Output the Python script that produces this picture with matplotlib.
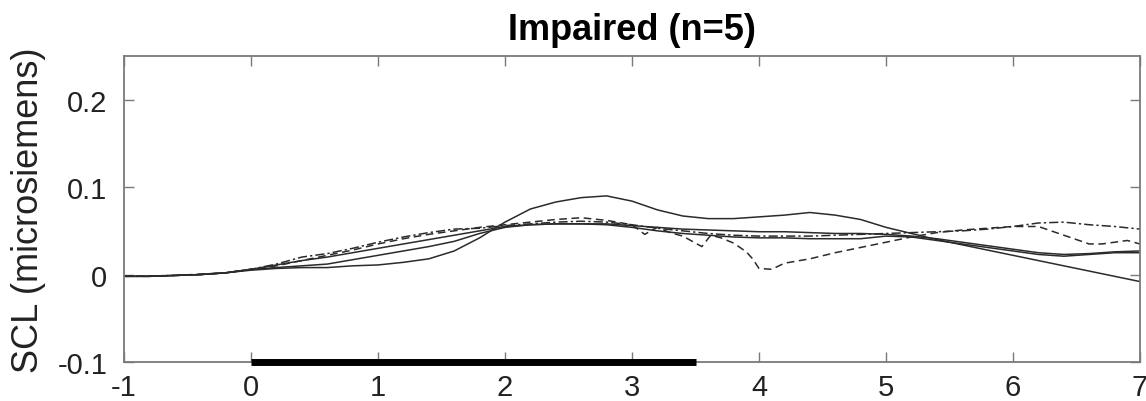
import matplotlib
matplotlib.use("Agg")
import matplotlib.pyplot as plt
from matplotlib import font_manager

# time axis (s) shared by most traces
t = [-1.0, -0.8, -0.6, -0.4, -0.2, 0.0, 0.2, 0.4, 0.6, 0.8, 1.0, 1.2, 1.4, 1.6,
     1.8, 2.0, 2.2, 2.4, 2.6, 2.8, 3.0, 3.2, 3.4, 3.6, 3.8, 4.0, 4.2, 4.4, 4.6,
     4.8, 5.0, 5.2, 5.4, 5.6, 5.8, 6.0, 6.2, 6.4, 6.6, 6.8, 7.0]

# solid trace with the big peak
scl_a = [-0.002, -0.002, -0.001, 0.000, 0.002, 0.005, 0.007, 0.008, 0.008, 0.010,
         0.011, 0.014, 0.018, 0.027, 0.042, 0.060, 0.075, 0.083, 0.088, 0.090,
         0.084, 0.074, 0.067, 0.064, 0.064, 0.066, 0.068, 0.071, 0.068, 0.063,
         0.054, 0.047, 0.040, 0.034, 0.028, 0.022, 0.016, 0.010, 0.004, -0.002,
         -0.008]

# dash-dot trace
scl_b = [-0.002, -0.002, -0.001, 0.000, 0.002, 0.006, 0.012, 0.020, 0.024, 0.030,
         0.037, 0.043, 0.048, 0.052, 0.053, 0.056, 0.058, 0.060, 0.061, 0.060,
         0.057, 0.053, 0.050, 0.047, 0.045, 0.044, 0.044, 0.044, 0.045, 0.046,
         0.047, 0.048, 0.049, 0.050, 0.052, 0.055, 0.059, 0.060, 0.057, 0.055,
         0.052]

# solid traces in the middle
scl_d = [-0.002, -0.002, -0.001, 0.000, 0.002, 0.006, 0.008, 0.010, 0.012, 0.017,
         0.022, 0.027, 0.032, 0.038, 0.047, 0.054, 0.057, 0.058, 0.058, 0.057,
         0.054, 0.050, 0.047, 0.045, 0.043, 0.042, 0.042, 0.041, 0.041, 0.041,
         0.044, 0.043, 0.039, 0.035, 0.031, 0.027, 0.023, 0.021, 0.023, 0.025,
         0.025]
scl_e = [-0.002, -0.002, -0.001, 0.000, 0.002, 0.006, 0.011, 0.016, 0.020, 0.025,
         0.030, 0.035, 0.040, 0.045, 0.050, 0.055, 0.057, 0.058, 0.058, 0.058,
         0.056, 0.054, 0.052, 0.051, 0.050, 0.049, 0.049, 0.048, 0.047, 0.047,
         0.046, 0.044, 0.041, 0.037, 0.033, 0.029, 0.025, 0.023, 0.024, 0.026,
         0.027]

# dashed trace with the dip near 4 s (own time points)
t_c = [-1.0, -0.6, -0.2, 0.0, 0.2, 0.4, 0.6, 0.8, 1.0, 1.2, 1.4, 1.6, 1.8, 2.0,
       2.2, 2.4, 2.6, 2.8, 3.0, 3.1, 3.2, 3.3, 3.4, 3.5, 3.55, 3.62, 3.7, 3.8,
       3.9, 3.95, 4.0, 4.1, 4.2, 4.4, 4.6, 4.8, 5.0, 5.2, 5.4, 5.6, 5.8, 6.0,
       6.2, 6.3, 6.4, 6.5, 6.6, 6.7, 6.8, 6.9, 7.0]
scl_c = [-0.002, -0.001, 0.002, 0.006, 0.010, 0.016, 0.022, 0.028, 0.035, 0.041,
         0.046, 0.050, 0.054, 0.057, 0.060, 0.063, 0.065, 0.062, 0.057, 0.046,
         0.054, 0.048, 0.044, 0.036, 0.032, 0.045, 0.042, 0.036, 0.026, 0.018,
         0.007, 0.006, 0.013, 0.018, 0.025, 0.031, 0.037, 0.043, 0.048, 0.051,
         0.053, 0.055, 0.055, 0.050, 0.045, 0.040, 0.035, 0.035, 0.037, 0.039,
         0.035]

stim_on, stim_off = 0.0, 3.5
xticks = [-1, 0, 1, 2, 3, 4, 5, 6, 7]
yticks = [-0.1, 0, 0.1, 0.2]
ytick_labels = ["-0.1", "0", "0.1", "0.2"]

names = {f.name for f in font_manager.fontManager.ttflist}
base_font = "Liberation Sans" if "Liberation Sans" in names else "DejaVu Sans"
plt.rcParams["font.family"] = base_font

fig = plt.figure(figsize=(11.46, 4.02), dpi=100)
ax = fig.add_axes([124 / 1146, 39 / 402, 1016 / 1146, 306 / 402])

line_col = "#2b2b2b"
ax.plot(t, scl_a, color=line_col, lw=1.1, ls="-")
ax.plot(t, scl_d, color=line_col, lw=1.1, ls="-")
ax.plot(t, scl_e, color=line_col, lw=1.1, ls="-")
ax.plot(t, scl_b, color=line_col, lw=1.1, ls=(0, (6, 2, 1.5, 2)))
ax.plot(t_c, scl_c, color=line_col, lw=1.1, ls=(0, (5, 3)))

# stimulus bar along the bottom axis
ax.plot([stim_on, stim_off], [-0.1, -0.1], color="black", lw=5,
        solid_capstyle="butt", clip_on=False, zorder=5)

ax.set_xlim(-1, 7)
ax.set_ylim(-0.1, 0.25)
ax.set_xticks(xticks)
ax.set_xticklabels([str(v) for v in xticks])
ax.set_yticks(yticks)
ax.set_yticklabels(ytick_labels)

for s in ax.spines.values():
    s.set_color("#7a7a7a")
    s.set_linewidth(1.3)
ax.tick_params(direction="in", length=7, width=1.0, color="#7a7a7a",
               labelsize=21, labelcolor="#222222", top=True, right=True, pad=8)
ax.tick_params(axis="y", pad=12)

ax.set_ylabel("SCL (microsiemens)", fontsize=26, color="#222222", labelpad=8)
ax.set_title("Impaired (n=5)", fontsize=26, fontweight="bold", pad=12)

fig.savefig("out.png", dpi=100)
